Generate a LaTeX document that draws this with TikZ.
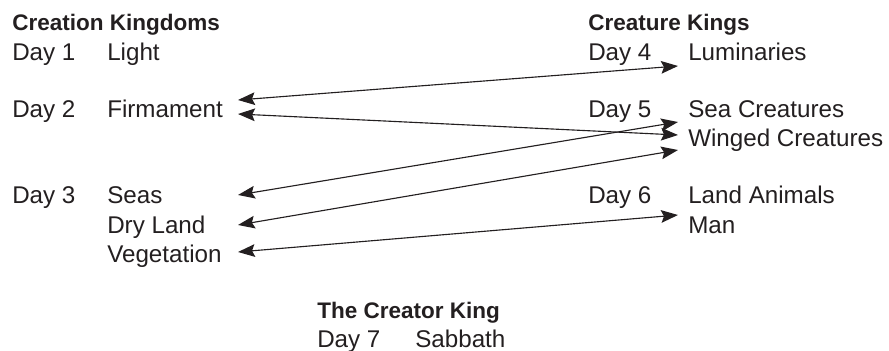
\documentclass[tikz,border=0pt]{standalone}
\usepackage{fontspec}
\setmainfont{Liberation Sans}
\usetikzlibrary{arrows.meta}
\definecolor{ink}{HTML}{231F20}
\tikzset{
  txt/.style={anchor=base west, inner sep=0pt, text=ink,
    font=\fontsize{17.2}{20}\selectfont},
  head/.style={anchor=base west, inner sep=0pt, text=ink,
    font=\fontsize{16}{19}\selectfont\bfseries},
  link/.style={{Stealth[length=12pt,width=9pt,inset=2pt]}-{Stealth[length=12pt,width=9pt,inset=2pt]},
    line width=0.8pt, draw=ink}
}
\begin{document}
\begin{tikzpicture}[x=0.025cm,y=-0.025cm]
\useasboundingbox (0,0) rectangle (889,350);

% creation kingdoms
\node[head] (ckHead) at (12,30) {Creation Kingdoms};
\node[txt] (day1) at (12,60) {Day 1};
\node[txt] (light) at (107,60) {Light};
\node[txt] (day2) at (12,117) {Day 2};
\node[txt] (firm) at (107,117) {Firmament};
\node[txt] (day3) at (12,203) {Day 3};
\node[txt] (seas) at (107,203) {Seas};
\node[txt] (dry) at (107,233) {Dry Land};
\node[txt] (veg) at (107,262) {Vegetation};

% creature kings
\node[head] (kkHead) at (588,30) {Creature Kings};
\node[txt] (day4) at (588,60) {Day 4};
\node[txt] (lum) at (688,60) {Luminaries};
\node[txt] (day5) at (588,117) {Day 5};
\node[txt] (seaCr) at (688,117) {Sea Creatures};
\node[txt] (wing) at (688,146) {Winged Creatures};
\node[txt] (day6) at (588,203) {Day 6};
\node[txt] (land) at (688,203) {Land Animals};
\node[txt] (man) at (688,233) {Man};

% creator king
\node[head] (crHead) at (317,318) {The Creator King};
\node[txt] (day7) at (317,347) {Day 7};
\node[txt] (sabb) at (415,347) {Sabbath};

% arrow ends
\coordinate (firmA) at (238,100);
\coordinate (firmB) at (238,114);
\coordinate (seasL) at (238,195);
\coordinate (dryL) at (238,225);
\coordinate (vegL) at (238,252);
\coordinate (lumR) at (678,66);
\coordinate (seaR) at (678,122);
\coordinate (wingA) at (678,135);
\coordinate (wingB) at (678,150);
\coordinate (manR) at (678,215);

\draw[link] (firmA) -- (lumR);
\draw[link] (firmB) -- (wingA);
\draw[link] (seasL) -- (seaR);
\draw[link] (dryL) -- (wingB);
\draw[link] (vegL) -- (manR);
\end{tikzpicture}
\end{document}
